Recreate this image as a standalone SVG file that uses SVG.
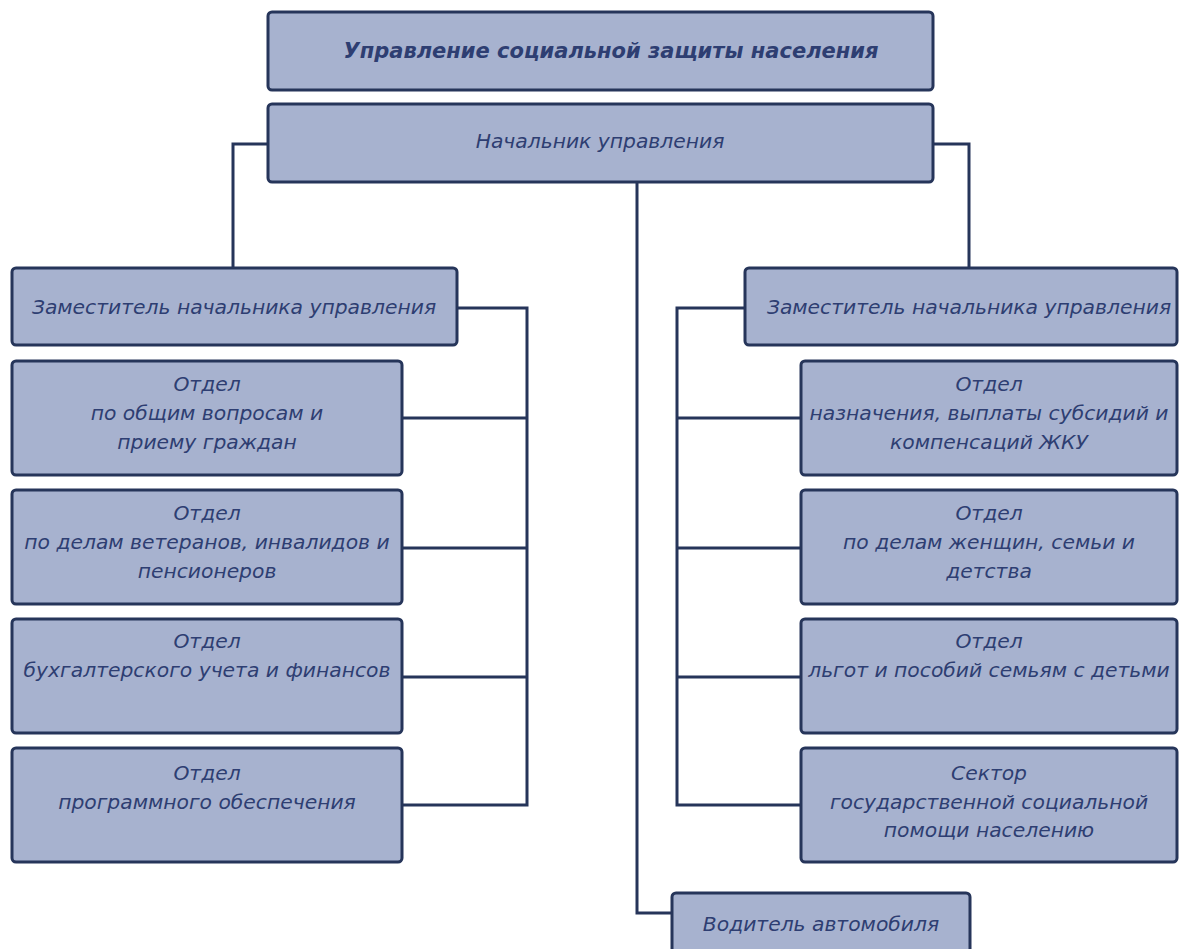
<svg xmlns="http://www.w3.org/2000/svg" width="1192" height="949" viewBox="0 0 1192 949">
<style>
.box{fill:#a7b2cf;stroke:#26355a;stroke-width:3}
.t{font-family:"DejaVu Sans",Verdana,sans-serif;font-style:italic;font-size:20.3px;fill:#2e3e72;text-anchor:middle}
.tb{font-weight:bold;font-size:21px}
.ln{fill:none;stroke:#26355a;stroke-width:3}
</style>
<rect width="1192" height="949" fill="#ffffff"/>
<g id="connectors">
<path class="ln" d="M268 144 H233 V268"/>
<path class="ln" d="M933 144 H969 V268"/>
<path class="ln" d="M637 182 V913 H672"/>
<path class="ln" d="M457 308 H527 V805 H402"/>
<path class="ln" d="M402 418 H527 M402 548 H527 M402 677 H527"/>
<path class="ln" d="M745 308 H677 V805 H801"/>
<path class="ln" d="M677 418 H801 M677 548 H801 M677 677 H801"/>
</g>
<g id="n-top"><rect class="box" x="268" y="12" width="665" height="78" rx="4"/><text class="t tb" x="611" y="58">Управление социальной защиты населения</text></g>
<g id="n-head"><rect class="box" x="268" y="104" width="665" height="78" rx="4"/><text class="t" x="600" y="148">Начальник управления</text></g>
<g id="n-dep-left"><rect class="box" x="12" y="268" width="445" height="77" rx="4"/><text class="t" x="234" y="314">Заместитель начальника управления</text></g>
<g id="n-dep-right"><rect class="box" x="745" y="268" width="432" height="77" rx="4"/><text class="t" x="969" y="314">Заместитель начальника управления</text></g>
<g id="n-l1"><rect class="box" x="12" y="361" width="390" height="114" rx="4"/><text class="t" x="207" y="391">Отдел</text><text class="t" x="207" y="420">по общим вопросам и</text><text class="t" x="207" y="449">приему граждан</text></g>
<g id="n-l2"><rect class="box" x="12" y="490" width="390" height="114" rx="4"/><text class="t" x="207" y="520">Отдел</text><text class="t" x="207" y="549">по делам ветеранов, инвалидов и</text><text class="t" x="207" y="578">пенсионеров</text></g>
<g id="n-l3"><rect class="box" x="12" y="619" width="390" height="114" rx="4"/><text class="t" x="207" y="648">Отдел</text><text class="t" x="207" y="677">бухгалтерского учета и финансов</text></g>
<g id="n-l4"><rect class="box" x="12" y="748" width="390" height="114" rx="4"/><text class="t" x="207" y="780">Отдел</text><text class="t" x="207" y="809">программного обеспечения</text></g>
<g id="n-r1"><rect class="box" x="801" y="361" width="376" height="114" rx="4"/><text class="t" x="989" y="391">Отдел</text><text class="t" x="989" y="420">назначения, выплаты субсидий и</text><text class="t" x="989" y="449">компенсаций ЖКУ</text></g>
<g id="n-r2"><rect class="box" x="801" y="490" width="376" height="114" rx="4"/><text class="t" x="989" y="520">Отдел</text><text class="t" x="989" y="549">по делам женщин, семьи и</text><text class="t" x="989" y="578">детства</text></g>
<g id="n-r3"><rect class="box" x="801" y="619" width="376" height="114" rx="4"/><text class="t" x="989" y="648">Отдел</text><text class="t" x="989" y="677">льгот и пособий семьям с детьми</text></g>
<g id="n-r4"><rect class="box" x="801" y="748" width="376" height="114" rx="4"/><text class="t" x="989" y="780">Сектор</text><text class="t" x="989" y="809">государственной социальной</text><text class="t" x="989" y="837">помощи населению</text></g>
<g id="n-driver"><rect class="box" x="672" y="893" width="298" height="66" rx="4"/><text class="t" x="821" y="931">Водитель автомобиля</text></g>
</svg>
